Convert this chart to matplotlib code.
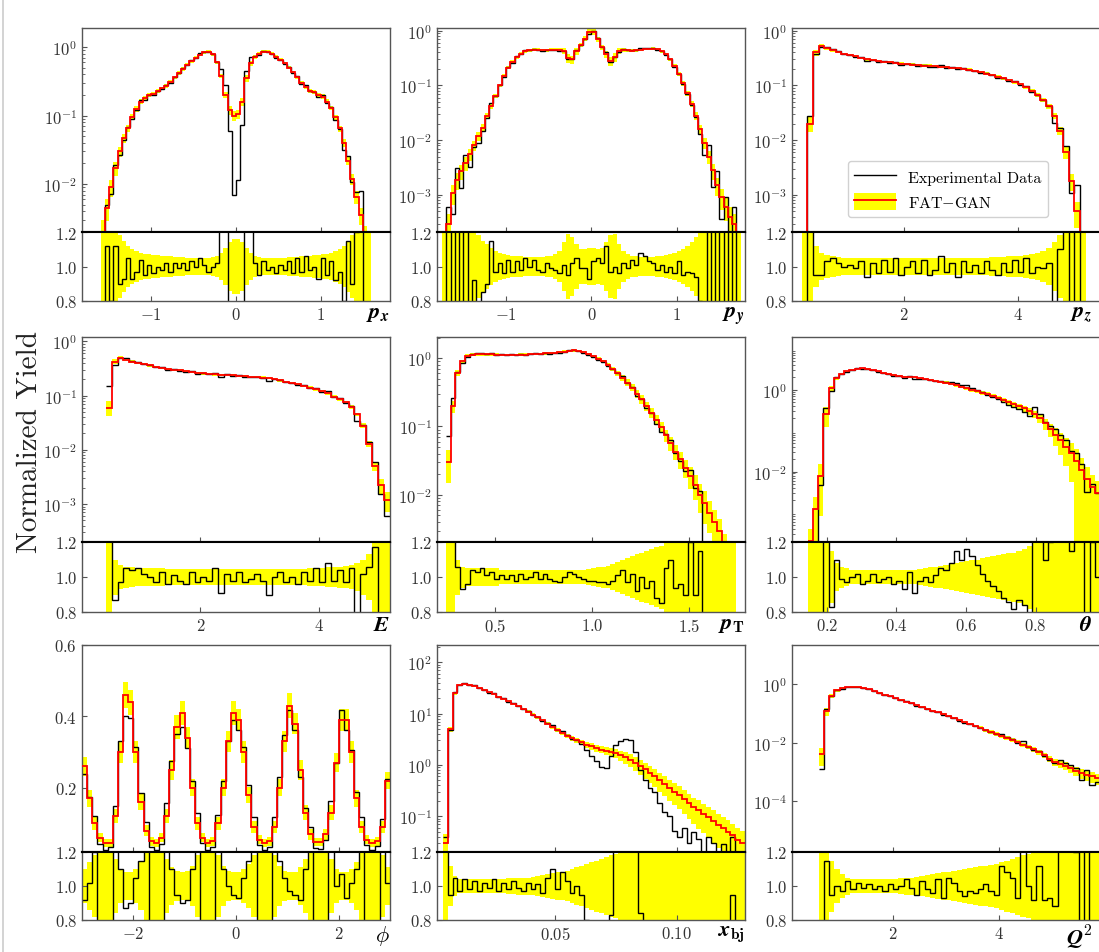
import numpy as np
import matplotlib
matplotlib.use('Agg')
import matplotlib.pyplot as plt
from matplotlib.lines import Line2D
from matplotlib.patches import Patch

plt.rcParams['font.family'] = 'serif'
plt.rcParams['font.serif'] = ['cmr10']
plt.rcParams['mathtext.fontset'] = 'cm'
plt.rcParams['axes.formatter.use_mathtext'] = True

# ---- p_x ----
px_gan = [0.002, 0.0045, 0.009, 0.017, 0.03, 0.047, 0.065, 0.095, 0.125, 0.16,
          0.18, 0.2, 0.21, 0.23, 0.25, 0.27, 0.31, 0.36, 0.42, 0.48,
          0.55, 0.62, 0.7, 0.77, 0.84, 0.86, 0.78, 0.6, 0.38, 0.2,
          0.12, 0.1, 0.105, 0.16, 0.35, 0.58, 0.72, 0.8, 0.85, 0.86,
          0.8, 0.72, 0.65, 0.58, 0.5, 0.43, 0.36, 0.3, 0.26, 0.23,
          0.22, 0.2, 0.19, 0.16, 0.13, 0.095, 0.065, 0.04, 0.022, 0.012,
          0.0065, 0.0035, 0.0018, 0.001]
px_ratio = [0.6, 1.12, 0.8, 1.12, 0.9, 0.93, 1.05, 0.93, 0.97, 1.04,
            0.95, 1.01, 0.96, 1.0, 0.98, 1.02, 0.97, 1.02, 0.99, 1.02,
            0.98, 1.03, 1.0, 1.05, 1.01, 0.97, 1.0, 1.02, 1.25, 1.4,
            0.5, 0.07, 0.11, 0.45, 1.3, 1.25, 1.02, 0.95, 1.03, 0.98,
            1.0, 0.96, 1.01, 0.98, 1.03, 0.96, 1.05, 0.97, 1.06, 0.98,
            1.0, 0.93, 1.05, 0.95, 1.03, 0.92, 0.97, 0.8, 1.15, 0.9,
            1.2, 2.3, 0.6, 0.0]
px_rel = [0.5, 0.35, 0.27, 0.22, 0.18, 0.15, 0.12, 0.1, 0.09, 0.08,
          0.075, 0.07, 0.065, 0.065, 0.06, 0.06, 0.06, 0.055, 0.055, 0.055,
          0.05, 0.05, 0.05, 0.05, 0.05, 0.05, 0.055, 0.06, 0.08, 0.11,
          0.14, 0.16, 0.16, 0.14, 0.11, 0.08, 0.06, 0.055, 0.05, 0.05,
          0.05, 0.05, 0.05, 0.05, 0.055, 0.055, 0.055, 0.06, 0.06, 0.06,
          0.065, 0.065, 0.07, 0.075, 0.08, 0.09, 0.1, 0.12, 0.15, 0.18,
          0.22, 0.27, 0.35, 0.5]

# ---- p_y ----
py_gan = [1e-4, 3e-4, 0.0011, 0.0019, 0.0027, 0.0038, 0.0055, 0.008, 0.012, 0.017,
          0.028, 0.042, 0.065, 0.1, 0.15, 0.21, 0.27, 0.33, 0.38, 0.42,
          0.44, 0.45, 0.45, 0.44, 0.44, 0.45, 0.45, 0.45, 0.43, 0.32,
          0.3, 0.42, 0.55, 0.72, 0.95, 0.95, 0.7, 0.5, 0.37, 0.28,
          0.33, 0.43, 0.45, 0.44, 0.43, 0.44, 0.45, 0.46, 0.46, 0.47,
          0.46, 0.42, 0.37, 0.3, 0.23, 0.16, 0.11, 0.072, 0.046, 0.028,
          0.016, 0.009, 0.005, 0.0028, 0.0015, 0.0009, 0.0006, 0.0004, 0.0003, 0.0001]
py_ratio = [0.0, 2.0, 0.4, 1.6, 0.5, 1.4, 0.6, 0.92, 0.75, 0.85,
            0.9, 1.15, 0.97, 1.02, 0.96, 1.04, 0.97, 1.03, 0.98, 1.05,
            1.0, 1.04, 0.98, 0.97, 1.02, 0.99, 0.98, 0.96, 1.01, 0.95,
            1.02, 1.05, 0.99, 0.99, 0.93, 1.03, 1.05, 1.02, 1.12, 0.97,
            1.0, 0.96, 1.02, 0.99, 1.04, 1.01, 1.08, 1.06, 1.03, 1.02,
            0.98, 1.01, 0.97, 1.0, 0.96, 1.03, 0.95, 0.97, 0.96, 0.94,
            0.8, 0.6, 1.6, 0.5, 1.8, 0.4, 1.5, 0.3, 2.0, 0.0]
py_rel = [0.5, 0.5, 0.4, 0.35, 0.3, 0.27, 0.24, 0.21, 0.18, 0.15,
          0.13, 0.11, 0.09, 0.08, 0.07, 0.065, 0.06, 0.06, 0.06, 0.055,
          0.055, 0.055, 0.055, 0.055, 0.06, 0.06, 0.07, 0.09, 0.14, 0.19,
          0.17, 0.13, 0.1, 0.1, 0.11, 0.11, 0.1, 0.11, 0.14, 0.18,
          0.19, 0.13, 0.09, 0.07, 0.06, 0.06, 0.055, 0.055, 0.055, 0.055,
          0.06, 0.06, 0.065, 0.07, 0.08, 0.09, 0.1, 0.12, 0.14, 0.17,
          0.2, 0.24, 0.28, 0.32, 0.36, 0.4, 0.45, 0.5, 0.5, 0.5]

# ---- p_z ----
pz_gan = [1e-4, 0.02, 0.4, 0.52, 0.48, 0.44, 0.41, 0.38, 0.36, 0.34,
          0.32, 0.3, 0.29, 0.28, 0.27, 0.265, 0.26, 0.25, 0.245, 0.24,
          0.235, 0.23, 0.23, 0.225, 0.22, 0.215, 0.21, 0.21, 0.2, 0.195,
          0.185, 0.175, 0.165, 0.155, 0.145, 0.135, 0.125, 0.115, 0.105, 0.092,
          0.08, 0.068, 0.055, 0.042, 0.028, 0.015, 0.006, 0.0018, 0.0005, 1e-5]
pz_ratio = [0.0, 1.4, 0.95, 0.95, 1.03, 1.05, 1.02, 1.0, 1.01, 0.99,
            1.03, 0.94, 1.02, 0.96, 1.04, 0.97, 1.05, 0.95, 1.0, 1.03,
            0.96, 1.04, 0.95, 0.98, 1.06, 0.97, 1.02, 0.94, 1.03, 0.97,
            1.01, 0.96, 1.03, 0.98, 0.95, 1.02, 0.97, 1.04, 0.97, 1.05,
            0.96, 1.0, 0.99, 1.02, 0.75, 1.1, 1.3, 0.6, 3.0, 0.0]
pz_rel = [0.5, 0.3, 0.12, 0.08, 0.065, 0.06, 0.055, 0.05, 0.05, 0.05,
          0.05, 0.05, 0.05, 0.05, 0.05, 0.05, 0.05, 0.05, 0.05, 0.05,
          0.05, 0.05, 0.05, 0.05, 0.05, 0.05, 0.05, 0.05, 0.05, 0.05,
          0.05, 0.05, 0.052, 0.054, 0.055, 0.056, 0.058, 0.06, 0.062, 0.065,
          0.07, 0.08, 0.09, 0.11, 0.14, 0.18, 0.25, 0.35, 0.5, 0.5]

# ---- E ----
E_gan = [0.06, 0.42, 0.5, 0.46, 0.42, 0.4, 0.38, 0.36, 0.34, 0.32,
         0.31, 0.3, 0.29, 0.28, 0.27, 0.26, 0.255, 0.25, 0.245, 0.24,
         0.24, 0.235, 0.23, 0.225, 0.22, 0.22, 0.215, 0.21, 0.2, 0.19,
         0.18, 0.17, 0.16, 0.15, 0.14, 0.13, 0.12, 0.11, 0.095, 0.085,
         0.075, 0.062, 0.045, 0.028, 0.013, 0.005, 0.0022, 0.0012]
E_ratio = [2.5, 0.87, 0.97, 1.05, 1.04, 1.05, 1.02, 1.0, 0.97, 1.03,
           0.96, 1.01, 0.98, 0.96, 1.03, 0.97, 1.0, 0.98, 1.05, 0.91,
           1.02, 0.98, 1.03, 0.97, 0.99, 1.02, 0.98, 0.9, 1.0, 1.03,
           0.97, 1.0, 0.96, 1.03, 0.98, 1.05, 0.97, 1.08, 0.98, 1.04,
           0.97, 1.05, 0.75, 1.02, 1.06, 1.17, 0.7, 0.5]
E_rel = [0.3, 0.1, 0.07, 0.06, 0.055, 0.05, 0.05, 0.05, 0.05, 0.05,
         0.045, 0.045, 0.045, 0.045, 0.045, 0.045, 0.045, 0.045, 0.045, 0.045,
         0.045, 0.045, 0.045, 0.045, 0.045, 0.045, 0.045, 0.045, 0.045, 0.045,
         0.045, 0.045, 0.045, 0.047, 0.05, 0.05, 0.052, 0.055, 0.057, 0.06,
         0.065, 0.07, 0.08, 0.1, 0.13, 0.2, 0.3, 0.4]

# ---- p_T ----
pT_gan = [0.03, 0.2, 0.6, 0.9, 1.08, 1.12, 1.14, 1.15, 1.15, 1.14,
          1.13, 1.12, 1.12, 1.12, 1.12, 1.13, 1.13, 1.14, 1.15, 1.16,
          1.17, 1.18, 1.2, 1.22, 1.25, 1.28, 1.3, 1.28, 1.22, 1.15,
          1.07, 0.98, 0.9, 0.8, 0.7, 0.6, 0.52, 0.44, 0.37, 0.3,
          0.25, 0.2, 0.16, 0.125, 0.097, 0.075, 0.057, 0.043, 0.033, 0.025,
          0.019, 0.014, 0.01, 0.0075, 0.0055, 0.004, 0.003, 0.0018, 0.001, 0.0005]
pT_ratio = [2.4, 1.3, 1.06, 0.93, 0.96, 1.04, 1.03, 1.05, 1.01, 1.03,
            0.99, 1.01, 0.99, 1.01, 0.98, 1.02, 0.99, 1.0, 1.03, 0.99,
            1.02, 0.99, 0.98, 0.97, 1.0, 1.03, 1.02, 1.0, 0.99, 0.98,
            0.98, 0.97, 0.97, 0.96, 0.98, 1.01, 1.04, 0.97, 1.02, 0.92,
            1.0, 0.94, 0.98, 0.88, 0.85, 1.05, 1.1, 0.94, 0.96, 0.9,
            1.2, 0.9, 1.15, 0.0, 0.0, 0.0, 0.0, 0.0, 0.0, 0.0]
pT_rel = [0.5, 0.2, 0.1, 0.06, 0.05, 0.05, 0.05, 0.05, 0.05, 0.05,
          0.05, 0.04, 0.04, 0.04, 0.04, 0.04, 0.04, 0.04, 0.04, 0.04,
          0.04, 0.04, 0.04, 0.04, 0.04, 0.04, 0.04, 0.04, 0.04, 0.045,
          0.05, 0.055, 0.06, 0.065, 0.075, 0.085, 0.095, 0.11, 0.12, 0.13,
          0.14, 0.15, 0.16, 0.17, 0.18, 0.2, 0.22, 0.25, 0.28, 0.3,
          0.35, 0.4, 0.45, 0.5, 0.5, 0.5, 0.5, 0.5, 0.5, 0.5]

# ---- theta ----
th_gan = [2e-4, 1.2e-3, 8e-3, 0.25, 1.1, 1.9, 2.4, 2.8, 3.1, 3.3,
          3.35, 3.2, 3.0, 2.8, 2.6, 2.45, 2.3, 2.2, 2.1, 2.05,
          2.0, 1.9, 1.8, 1.75, 1.65, 1.58, 1.5, 1.4, 1.3, 1.2,
          1.1, 1.0, 0.92, 0.85, 0.78, 0.7, 0.63, 0.56, 0.5, 0.45,
          0.4, 0.35, 0.3, 0.25, 0.2, 0.15, 0.11, 0.078, 0.058, 0.04,
          0.028, 0.018, 0.011, 0.0065, 0.0042, 0.003]
th_ratio = [0.0, 0.0, 0.6, 1.4, 0.83, 1.1, 0.99, 0.97, 1.0, 1.02,
            0.96, 0.98, 1.02, 0.97, 0.99, 1.0, 0.96, 0.98, 0.93, 1.03,
            0.91, 0.98, 1.0, 0.97, 1.01, 1.05, 1.04, 1.08, 1.15, 1.1,
            1.16, 1.12, 1.07, 1.02, 0.98, 0.95, 0.92, 0.88, 0.86, 0.82,
            0.87, 0.84, 0.78, 1.5, 1.3, 1.1, 1.2, 1.4, 1.35, 1.5,
            1.15, 1.6, 1.4, 0.5, 1.2, 1.0]
th_rel = [0.99, 0.99, 0.9, 0.5, 0.15, 0.08, 0.06, 0.05, 0.04, 0.04,
          0.04, 0.04, 0.04, 0.04, 0.04, 0.04, 0.04, 0.04, 0.04, 0.04,
          0.04, 0.045, 0.05, 0.055, 0.06, 0.065, 0.07, 0.075, 0.08, 0.085,
          0.09, 0.095, 0.1, 0.11, 0.115, 0.12, 0.125, 0.13, 0.135, 0.14,
          0.15, 0.16, 0.18, 0.2, 0.25, 0.3, 0.35, 0.45, 0.55, 0.65,
          0.8, 0.99, 0.99, 0.99, 0.99, 0.99]

# ---- phi ----
phi_gan = [0.26, 0.17, 0.1, 0.06, 0.045, 0.045, 0.12, 0.3, 0.46, 0.44,
           0.3, 0.16, 0.08, 0.05, 0.045, 0.06, 0.12, 0.25, 0.37, 0.41,
           0.34, 0.2, 0.1, 0.06, 0.045, 0.05, 0.1, 0.2, 0.33, 0.41,
           0.39, 0.3, 0.18, 0.09, 0.055, 0.045, 0.05, 0.09, 0.2, 0.33,
           0.43, 0.38, 0.25, 0.13, 0.07, 0.048, 0.048, 0.07, 0.13, 0.27,
           0.39, 0.39, 0.3, 0.17, 0.09, 0.055, 0.045, 0.05, 0.09, 0.22]
phi_ratio = [0.92, 1.02, 1.2, 0.7, 0.6, 0.75, 1.25, 1.1, 0.87, 0.9,
             1.05, 1.15, 1.3, 0.7, 0.6, 0.7, 1.3, 1.1, 0.95, 0.9,
             0.92, 1.1, 1.3, 0.75, 0.6, 0.7, 1.25, 1.1, 1.0, 0.95,
             0.93, 1.05, 1.15, 1.3, 0.7, 0.6, 0.7, 1.3, 1.15, 1.05,
             0.97, 0.95, 0.92, 1.1, 1.3, 0.65, 0.6, 0.75, 1.25, 1.0,
             1.07, 0.93, 1.02, 1.1, 1.3, 0.7, 0.6, 0.75, 1.25, 1.02]
phi_rel = [0.1, 0.14, 0.18, 0.22, 0.25, 0.25, 0.16, 0.1, 0.08, 0.08,
           0.1, 0.14, 0.2, 0.25, 0.25, 0.22, 0.16, 0.11, 0.09, 0.08,
           0.09, 0.12, 0.18, 0.22, 0.25, 0.24, 0.18, 0.12, 0.09, 0.08,
           0.08, 0.1, 0.13, 0.18, 0.23, 0.25, 0.24, 0.18, 0.12, 0.09,
           0.08, 0.08, 0.11, 0.16, 0.22, 0.25, 0.25, 0.22, 0.16, 0.1,
           0.08, 0.08, 0.1, 0.14, 0.2, 0.24, 0.25, 0.24, 0.18, 0.11]

# ---- x_bj ----
xbj_gan = [0.03, 5, 25, 37, 38, 37, 35, 32, 29, 26,
           24, 21.5, 19.5, 17.5, 15.5, 14, 12.5, 11, 9.6, 8.5,
           7.4, 6.4, 5.5, 4.8, 4.2, 3.7, 3.3, 3.0, 2.75, 2.5,
           2.3, 2.15, 2.0, 1.9, 1.8, 1.7, 1.55, 1.4, 1.25, 1.1,
           0.95, 0.82, 0.7, 0.6, 0.5, 0.42, 0.35, 0.3, 0.26, 0.22,
           0.18, 0.15, 0.13, 0.11, 0.095, 0.08, 0.068, 0.058, 0.05, 0.042,
           0.035, 0.03]
xbj_ratio = [1.3, 0.95, 1.05, 0.97, 1.04, 0.98, 1.03, 0.97, 1.02, 0.99,
             1.04, 0.97, 1.02, 0.98, 1.03, 0.99, 0.97, 1.02, 0.98, 1.01,
             0.96, 1.05, 1.1, 0.98, 1.08, 1.03, 0.96, 1.0, 0.95, 0.8,
             0.65, 0.56, 0.45, 0.45, 0.83, 1.47, 1.87, 2.3, 2.4, 1.64,
             0.84, 0.61, 0.5, 0.5, 0.36, 0.29, 0.29, 0.17, 0.15, 0.27,
             0.17, 0.33, 0.27, 0.18, 0.42, 0.37, 0.0, 0.5, 0.4, 0.95,
             0.57, 0.0]
xbj_rel = [0.5, 0.12, 0.06, 0.04, 0.04, 0.04, 0.04, 0.04, 0.04, 0.04,
           0.04, 0.04, 0.04, 0.045, 0.045, 0.05, 0.05, 0.05, 0.055, 0.06,
           0.065, 0.07, 0.075, 0.08, 0.085, 0.09, 0.1, 0.11, 0.12, 0.13,
           0.14, 0.15, 0.16, 0.17, 0.18, 0.19, 0.22, 0.25, 0.28, 0.3,
           0.32, 0.34, 0.36, 0.38, 0.4, 0.42, 0.44, 0.46, 0.48, 0.5,
           0.52, 0.54, 0.56, 0.58, 0.6, 0.62, 0.64, 0.66, 0.68, 0.7,
           0.7, 0.7]

# ---- Q^2 ----
Q2_gan = [0.004, 0.12, 0.4, 0.62, 0.72, 0.78, 0.8, 0.8, 0.75, 0.66,
          0.58, 0.5, 0.44, 0.38, 0.33, 0.29, 0.25, 0.22, 0.19, 0.165,
          0.143, 0.124, 0.107, 0.092, 0.079, 0.068, 0.058, 0.05, 0.043, 0.037,
          0.032, 0.027, 0.023, 0.02, 0.017, 0.0145, 0.0123, 0.0105, 0.0085, 0.0072,
          0.006, 0.0047, 0.0037, 0.0028, 0.0022, 0.0019, 0.0016, 0.0013, 0.0011, 0.0009,
          0.0008, 0.0007, 0.0006]
Q2_ratio = [0.3, 1.15, 0.95, 1.0, 0.97, 1.03, 0.98, 1.02, 0.99, 1.01,
            0.98, 1.0, 0.97, 1.01, 0.98, 1.0, 1.04, 0.99, 0.95, 1.03,
            0.98, 0.96, 1.04, 0.93, 1.05, 1.02, 0.97, 0.94, 0.97, 0.96,
            0.98, 1.01, 0.97, 0.95, 1.12, 1.08, 1.05, 0.93, 1.35, 1.0,
            0.92, 1.12, 0.92, 0.93, 0.88, 1.3, 1.25, 1.3, 1.2, 0.6,
            1.4, 0.5, 0.75]
Q2_rel = [0.6, 0.3, 0.15, 0.1, 0.07, 0.05, 0.04, 0.04, 0.04, 0.04,
          0.04, 0.04, 0.04, 0.04, 0.04, 0.045, 0.05, 0.05, 0.055, 0.06,
          0.065, 0.07, 0.075, 0.08, 0.085, 0.09, 0.095, 0.1, 0.105, 0.11,
          0.115, 0.12, 0.125, 0.13, 0.14, 0.15, 0.16, 0.17, 0.18, 0.19,
          0.2, 0.21, 0.22, 0.24, 0.26, 0.28, 0.3, 0.32, 0.34, 0.36,
          0.38, 0.4, 0.4]

panels = [
    dict(rng=(-1.6, 1.6), gan=px_gan, ratio=px_ratio, rel=px_rel, xlim=(-1.82, 1.82),
         ylim=(2e-3, 1.9), xticks=[-1, 0, 1], label=r'$\boldsymbol{p}_{\boldsymbol{x}}$'),
    dict(rng=(-1.75, 1.75), gan=py_gan, ratio=py_ratio, rel=py_rel, xlim=(-1.81, 1.8),
         ylim=(2.1e-4, 1.12), xticks=[-1, 0, 1], label=r'$\boldsymbol{p}_{\boldsymbol{y}}$'),
    dict(rng=(0.2, 5.2), gan=pz_gan, ratio=pz_ratio, rel=pz_rel, xlim=(0.03, 5.45),
         ylim=(2.1e-4, 1.12), xticks=[2, 4], label=r'$\boldsymbol{p}_{\boldsymbol{z}}$'),
    dict(rng=(0.4, 5.2), gan=E_gan, ratio=E_ratio, rel=E_rel, xlim=(0.0, 5.2),
         ylim=(2e-4, 1.2), xticks=[2, 4], label=r'$\boldsymbol{E}$'),
    dict(rng=(0.245, 1.745), gan=pT_gan, ratio=pT_ratio, rel=pT_rel, xlim=(0.2, 1.79),
         ylim=(2.04e-3, 2.04), xticks=[0.5, 1.0, 1.5], label=r'$\boldsymbol{p}_{\mathbf{T}}$'),
    dict(rng=(0.145, 0.985), gan=th_gan, ratio=th_ratio, rel=th_rel, xlim=(0.1, 0.985),
         ylim=(1.9e-4, 19.5), xticks=[0.2, 0.4, 0.6, 0.8], yticks=[1e-2, 1e0],
         label=r'$\boldsymbol{\theta}$'),
    dict(rng=(-3.0, 3.0), gan=phi_gan, ratio=phi_ratio, rel=phi_rel, xlim=(-3.0, 3.0),
         ylim=(0.02, 0.6), xticks=[-2, 0, 2], yticks=[0.2, 0.4, 0.6], linear=True,
         label=r'$\phi$'),
    dict(rng=(0.004, 0.128), gan=xbj_gan, ratio=xbj_ratio, rel=xbj_rel, xlim=(0.0016, 0.128),
         ylim=(0.02, 219), xticks=[0.05, 0.10], label=r'$\boldsymbol{x}_{\mathbf{bj}}$'),
    dict(rng=(0.6, 5.9), gan=Q2_gan, ratio=Q2_ratio, rel=Q2_rel, xlim=(0.1, 5.9),
         ylim=(1.8e-6, 21.8), xticks=[2, 4], yticks=[1e-4, 1e-2, 1e0],
         label=r'$\boldsymbol{Q}^{\mathbf{2}}$'),
]

W, H = 1099, 953
fig = plt.figure(figsize=(W / 100, H / 100), dpi=100)

col_x = [82, 437, 792]
row_top = [29, 338, 646]
row_mid = [233, 543, 853]
row_bot = [302, 613, 921]
pw = 308
frame = '#555555'
txt = '#333333'

axes_main = []
for k, p in enumerate(panels):
    r, c = divmod(k, 3)
    x0 = col_x[c] / W
    ax = fig.add_axes([x0, 1 - row_mid[r] / H, pw / W, (row_mid[r] - row_top[r]) / H])
    axr = fig.add_axes([x0, 1 - row_bot[r] / H, pw / W, (row_bot[r] - row_mid[r]) / H], sharex=ax)
    axes_main.append(ax)

    gan = np.array(p['gan'])
    ratio = np.array(p['ratio'])
    rel = np.array(p['rel'])
    data = gan * ratio
    edges = np.linspace(p['rng'][0], p['rng'][1], len(gan) + 1)

    lo = np.clip(gan * (1 - rel), 1e-9, None)
    ax.stairs(gan * (1 + rel), edges, baseline=lo, fill=True, color='#ffff00', lw=0, zorder=1)
    ax.stairs(data, edges, baseline=None, color='black', lw=1.0, zorder=2)
    ax.stairs(gan, edges, baseline=None, color='#ff0000', lw=1.3, zorder=3)

    if not p.get('linear'):
        ax.set_yscale('log')
    ax.set_ylim(*p['ylim'])
    ax.set_xlim(*p['xlim'])
    if 'yticks' in p:
        ax.set_yticks(p['yticks'])
    ax.set_xticks(p['xticks'])

    axr.stairs(1 + rel, edges, baseline=1 - rel, fill=True, color='#ffff00', lw=0, zorder=1)
    axr.stairs(ratio, edges, baseline=None, color='black', lw=1.0, zorder=2)
    axr.set_ylim(0.8, 1.2)
    axr.set_yticks([0.8, 1.0, 1.2])

    for a in (ax, axr):
        a.tick_params(which='both', direction='in', labelsize=12, labelcolor=txt, color=frame)
        for s in a.spines.values():
            s.set_color(frame)
            s.set_linewidth(1.0)
    ax.tick_params(labelbottom=False)
    ax.spines['bottom'].set_color('black')
    ax.spines['bottom'].set_linewidth(1.5)
    axr.spines['top'].set_color('black')
    axr.spines['top'].set_linewidth(1.5)

    lx = 0.975 if c == 2 else 1.0
    axr.text(lx, -0.04, p['label'], transform=axr.transAxes, ha='right', va='top',
             fontsize=16, color='black')

handles = [Line2D([], [], color='black', lw=1.0),
           (Patch(color='#ffff00', lw=0), Line2D([], [], color='#ff0000', lw=1.3))]
axes_main[2].legend(handles, ['Experimental Data', 'FAT$-$GAN'], loc='lower left',
                    bbox_to_anchor=(0.155, 0.035), fontsize=11.5, handlelength=2.6,
                    handleheight=1.3, framealpha=0.9, edgecolor='#cccccc')

fig.text(30 / W, 1 - 442 / H, 'Normalized Yield', rotation=90, fontsize=21,
         ha='center', va='center', color='#222222')
fig.add_artist(Line2D([3 / W, 3 / W], [0, 1], color='#cccccc', lw=1.2))

fig.savefig('out.png', dpi=100)
